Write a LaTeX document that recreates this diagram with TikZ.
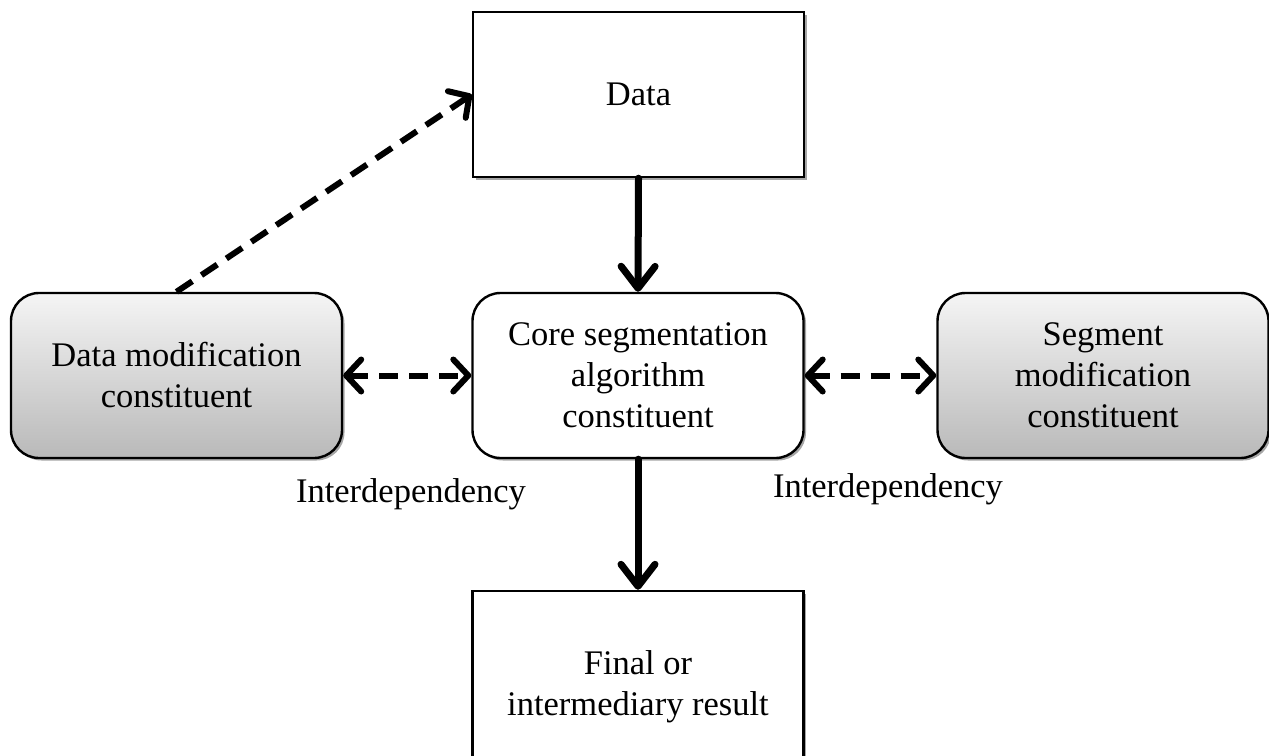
\documentclass[tikz,border=0pt]{standalone}
\usepackage{fontspec}
\setmainfont{Liberation Serif}
\usetikzlibrary{arrows.meta,shadows}

\tikzset{
  every node/.style={font=\fontsize{34.5}{41}\selectfont, align=center},
  plainbox/.style={draw=black, line width=2.4pt, fill=white,
    minimum width=331pt, minimum height=165pt, inner sep=0pt,
    drop shadow={shadow xshift=2.5pt, shadow yshift=-2.5pt, opacity=0.35, fill=black}},
  roundbox/.style={plainbox, rounded corners=28pt},
  shadedbox/.style={roundbox, top color=gray!8, bottom color=gray!55},
  barb/.style={Straight Barb[length=#1, width=32pt, line cap=round, line join=round]},
  flow/.style={line width=7pt, line cap=round,
    -{Straight Barb[length=22pt, width=34pt, line cap=round, line join=round]}},
  link/.style={line width=6pt, dash pattern=on 19pt off 11pt,
    {Straight Barb[length=15pt, width=32pt, line cap=round, line join=round]}-{Straight Barb[length=15pt, width=32pt, line cap=round, line join=round]}},
  feed/.style={line width=6pt, dash pattern=on 19pt off 11pt,
    -{Straight Barb[length=15pt, width=32pt, line cap=round, line join=round]}},
  caption/.style={font=\fontsize{34.5}{41}\selectfont}
}

\begin{document}
\begin{tikzpicture}[x=1pt, y=-1pt]
  \clip (0,0) rectangle (1269,755);
  \fill[white] (0,0) rectangle (1269,755);

  % boxes
  \node[plainbox]  (data)   at (638.5, 94.5)  {Data};
  \node[roundbox]  (core)   at (638.0, 375.5) {Core segmentation\\algorithm\\constituent};
  \node[shadedbox] (dmod)   at (176.5, 375.5) {Data modification\\constituent};
  \node[shadedbox] (smod)   at (1103.0, 375.5) {Segment\\modification\\constituent};
  \node[plainbox, minimum height=192pt] (result) at (638.0, 687.0) {Final or\\intermediary result};

  % labels under the interdependency links
  \node[caption] (lab1) at (411, 494) {Interdependency};
  \node[caption] (lab2) at (888, 489) {Interdependency};

  % connectors
  \draw[flow] (data.south) -- (core.north);
  \draw[flow] (core.south) -- (result.north);
  \draw[link] (dmod.east) -- (core.west);
  \draw[link] (core.east) -- (smod.west);
  \draw[feed] (dmod.north) -- (data.west);
\end{tikzpicture}
\end{document}
